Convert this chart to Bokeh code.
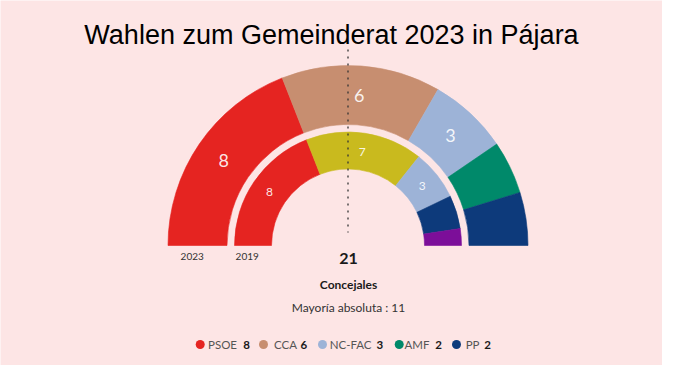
import numpy as np
from bokeh.plotting import figure
from bokeh.models import Range1d, ColumnDataSource
from bokeh.core.properties import value
from bokeh.embed import file_html
from bokeh.resources import INLINE

# ---------------- data ----------------
parties_2023 = ["PSOE", "CCA", "NC-FAC", "AMF", "PP"]
seats_2023 = [8, 6, 3, 2, 2]
colors_2023 = ["#e52421", "#c78e70", "#9db3d7", "#00896a", "#0d3a7b"]

parties_2019 = ["PSOE", "CC", "NC-FAC", "PP", "Otros"]
seats_2019 = [8, 7, 3, 2, 1]
colors_2019 = ["#e52421", "#c9ba1e", "#9db3d7", "#0d3a7b", "#7c0e99"]

total_seats = 21
majority = 11
title = "Wahlen zum Gemeinderat 2023 in Pájara"

# ---------------- layout ----------------
W, H = 662, 365
BG = "#fde5e5"
FONT = "Lato"


def yd(yi):
    # page pixel row -> data y (y axis pointing up)
    return 381 - yi


cx, cy = 355.5, yd(253)
rings = {
    "2023": dict(r_in=121, r_out=180, label_size="18px"),
    "2019": dict(r_in=76.5, r_out=113.5, label_size="12px"),
}

p = figure(width=W, height=H, output_backend="svg", toolbar_location=None,
           x_axis_type=None, y_axis_type=None, min_border=0,
           x_range=Range1d(8, 8 + W), y_range=Range1d(yd(373), yd(8)))
p.background_fill_color = BG
p.border_fill_color = BG
p.outline_line_color = None
p.grid.visible = False


def draw_ring(seats, colors, r_in, r_out, label_size):
    seats = np.array(seats, dtype=float)
    cum = np.concatenate([[0], np.cumsum(seats)])
    tot = cum[-1]
    start = np.pi - cum[1:] * np.pi / tot
    end = np.pi - cum[:-1] * np.pi / tot
    src = ColumnDataSource(dict(start=start, end=end, color=colors))
    p.annular_wedge(x=cx, y=cy, inner_radius=r_in, outer_radius=r_out,
                    start_angle="start", end_angle="end", source=src,
                    fill_color="color", line_color="color", line_width=0.6)
    mid = (start + end) / 2
    rm = (r_in + r_out) / 2
    lab = dict(x=cx + rm * np.cos(mid), y=cy + rm * np.sin(mid),
               t=[str(int(s)) if s >= 3 else "" for s in seats])
    p.text(x="x", y="y", text="t", source=ColumnDataSource(lab),
           text_align="center", text_baseline="middle",
           text_font=value(FONT), text_font_size=label_size,
           text_color="white", text_alpha=0.9)


draw_ring(seats_2023, colors_2023, **rings["2023"])
draw_ring(seats_2019, colors_2019, **rings["2019"])

# majority line
p.segment(x0=cx, y0=yd(57), x1=cx, y1=yd(240), line_color="#333333",
          line_width=1.3, line_dash="2 5")

# title
p.text(x=[339], y=[yd(42)], text=[title], text_align="center",
       text_baseline="alphabetic", text_font=value("Liberation Sans"),
       text_font_size="27px", text_color="#000000")

# year labels
p.text(x=[199.7, 254.7], y=[yd(264), yd(264)], text=["2023", "2019"],
       text_align="center", text_baseline="middle", text_font=value(FONT),
       text_font_size="10px", text_color="#333333")

# total / caption
p.text(x=[356], y=[yd(266)], text=[str(total_seats)], text_align="center",
       text_baseline="middle", text_font=value(FONT), text_font_size="16px",
       text_font_style="bold", text_color="#1a1a1a")
p.text(x=[356], y=[yd(292)], text=["Concejales"], text_align="center",
       text_baseline="middle", text_font=value(FONT), text_font_size="12px",
       text_font_style="bold", text_color="#1a1a1a")
p.text(x=[356], y=[yd(314.5)], text=["Mayoría absoluta : %d" % majority],
       text_align="center", text_baseline="middle", text_font=value(FONT),
       text_font_size="12px", text_color="#333333")

# legend
leg_circle_x = [207.7, 271, 330, 406.7, 464]
leg_label_end = [244.5, 304.5, 379, 437, 487]
leg_num_x = [250.7, 308, 384, 442.7, 491.7]
leg_y = yd(352)
p.scatter(x=leg_circle_x, y=[leg_y] * 5, size=9, marker="circle",
          fill_color=colors_2023, line_color=None)
p.text(x=leg_label_end, y=[leg_y] * 5, text=parties_2023,
       text_align="right", text_baseline="middle", text_font=value(FONT),
       text_font_size="11.5px", text_color="#555555")
p.text(x=leg_num_x, y=[leg_y] * 5, text=[str(s) for s in seats_2023],
       text_align="left", text_baseline="middle", text_font=value(FONT),
       text_font_size="11.5px", text_font_style="bold", text_color="#1a1a1a")

open("out.html", "w").write(file_html(p, INLINE))
